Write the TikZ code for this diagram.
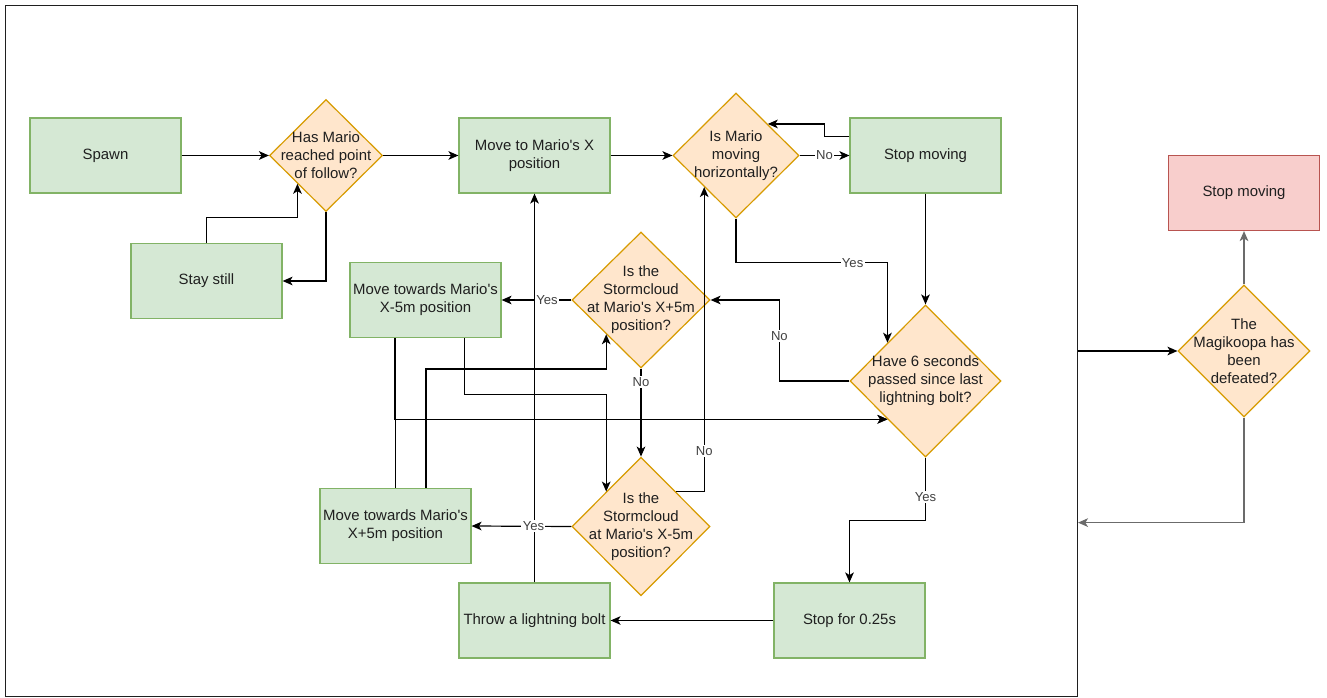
\documentclass[tikz,border=0pt]{standalone}
\usepackage{fontspec}
\setmainfont{Liberation Sans}
\usetikzlibrary{shapes.geometric,arrows.meta,calc}
\definecolor{gfill}{HTML}{D5E8D4}
\definecolor{gline}{HTML}{82B366}
\definecolor{ofill}{HTML}{FFE6CC}
\definecolor{oline}{HTML}{D79B00}
\definecolor{rfill}{HTML}{F8CECC}
\definecolor{rline}{HTML}{B85450}
\definecolor{txt}{HTML}{1F1F1F}
\definecolor{lgray}{HTML}{6B6B6B}
\newcommand{\boxfont}{\fontsize{11.2pt}{13.5pt}\selectfont}
\newcommand{\labfont}{\fontsize{9.8pt}{10.5pt}\selectfont}
\newcommand{\apo}{\textquotesingle}
\begin{document}
\begin{tikzpicture}[x=0.75pt,y=-0.75pt,
  box/.style={draw=gline, fill=gfill, line width=0.9pt, minimum width=113.25pt, minimum height=56.25pt, inner sep=0pt, align=center, font=\boxfont, text=txt},
  redbox/.style={box, draw=rline, fill=rfill},
  dia/.style={diamond, draw=oline, fill=ofill, line width=0.9pt, inner sep=0pt},
  dtext/.style={align=center, font=\boxfont, text=txt, inner sep=0pt},
  arr/.style={-{Stealth[length=7.5pt,width=6.5pt,inset=2pt]}, line width=0.9pt, draw=black},
  garr/.style={arr, draw=lgray},
  lbl/.style={fill=white, font=\labfont, text=txt!85, inner sep=1pt}]
\fill[white] (0,0) rectangle (1327,698);
\useasboundingbox (0,0) rectangle (1327,698);
% container frame
\node[draw=txt, line width=0.75pt, minimum width=804pt, minimum height=518.25pt, anchor=north west, inner sep=0pt] (frame) at (5,5) {};
% nodes
\node[box] (spawn) at (105.5,155.5) {Spawn};
\node[dia, minimum width=84.75pt, minimum height=84pt] (d1) at (326,155.5) {};
\node[dtext] (d1t) at (d1) {Has Mario\\reached point\\of follow?};
\node[box] (movex) at (534.5,155.5) {Move to Mario\apo s X\\position};
\node[dia, minimum width=94.5pt, minimum height=93.75pt] (d2) at (736,155.5) {};
\node[dtext] (d2t) at (d2) {Is Mario\\moving\\horizontally?};
\node[box] (stopm) at (925.5,155.5) {Stop moving};
\node[box] (stay) at (206.5,281) {Stay still};
\node[box] (xm5) at (425.5,300) {Move towards Mario\apo s\\X-5m position};
\node[dia, minimum width=103.5pt, minimum height=102pt] (d4) at (641,300) {};
\node[dtext] (d4t) at (d4) {Is the\\Stormcloud\\at Mario\apo s X+5m\\position?};
\node[dia, minimum width=113.25pt, minimum height=114pt] (d3) at (925.5,381) {};
\node[dtext] (d3t) at (d3) {Have 6 seconds\\passed since last\\lightning bolt?};
\node[box] (xp5) at (395.5,526) {Move towards Mario\apo s\\X+5m position};
\node[dia, minimum width=103.5pt, minimum height=104pt] (d5) at (641,526.5) {};
\node[dtext] (d5t) at (d5) {Is the\\Stormcloud\\at Mario\apo s X-5m\\position?};
\node[box] (throw) at (534.5,620.5) {Throw a lightning bolt};
\node[box] (stop25) at (849.5,620.5) {Stop for 0.25s};
\node[dia, minimum width=99pt, minimum height=99pt] (d6) at (1244,351) {};
\node[dtext] (d6t) at (d6) {The\\Magikoopa has\\been\\defeated?};
\node[redbox] (red) at (1244,193) {Stop moving};
% edge midpoints of diamonds
\coordinate (d1sw) at ($(d1.west)!0.5!(d1.south)$);
\coordinate (d2ne) at ($(d2.north)!0.5!(d2.east)$);
\coordinate (d2sw) at ($(d2.west)!0.5!(d2.south)$);
\coordinate (d3nw) at ($(d3.west)!0.5!(d3.north)$);
\coordinate (d3sw) at ($(d3.west)!0.5!(d3.south)$);
\coordinate (d4sw) at ($(d4.west)!0.5!(d4.south)$);
\coordinate (d5nw) at ($(d5.west)!0.5!(d5.north)$);
\coordinate (d5ne) at ($(d5.north)!0.5!(d5.east)$);
% connectors
\draw[arr] (spawn.east) -- (d1.west);
\draw[arr] (d1.south) |- (stay.east);
\draw[arr] (stay.north) -- ++(0,-25) -| (d1sw);
\draw[arr] (d1.east) -- (movex.west);
\draw[arr] (movex.east) -- (d2.west);
\draw[arr] (d2.east) -- node[lbl] {No} (stopm.west);
\draw[arr] ($(stopm.north west)!0.25!(stopm.south west)$) -- ++(-25,0) |- (d2ne);
\draw[arr] (stopm.south) -- (d3.north);
\draw[arr] (d2.south) -- ++(0,44) -| node[lbl, pos=0.385] {Yes} (d3nw);
\draw[arr] (d3.west) -- ++(-70,0) |- node[lbl, pos=0.28] {No} (d4.east);
\draw[arr] (d4.west) -- node[lbl, pos=0.35] {Yes} (xm5.east);
\draw[arr] (d4.south) -- node[lbl, pos=0.15] {No} (d5.north);
\draw[arr] (d5ne) -| node[lbl, pos=0.566] {No} (d2sw);
\draw[arr] (throw.north) -- (movex.south);
\draw[arr] (d5.west) -- node[lbl, pos=0.38] {Yes} (xp5.east);
\draw[arr] (stop25.west) -- (throw.east);
\draw[arr] (d3.south) -- node[lbl, pos=0.63] {Yes} ++(0,63) -| (stop25.north);
\draw[arr] ($(xm5.south west)!0.3!(xm5.south east)$) |- (d3sw);
\draw[arr] (xp5.north) |- (d3sw);
\draw[arr] ($(xp5.north west)!0.7!(xp5.north east)$) -- ++(0,-119) -| (d4sw);
\draw[arr] ($(xm5.south west)!0.755!(xm5.south east)$) -- ++(0,56) -| (d5nw);
% right part
\draw[arr] (d6.west -| frame.east) -- (d6.west);
\draw[garr] (d6.north) -- (red.south);
\draw[garr] (d6.south) |- ($(frame.north east)!0.748!(frame.south east)$);
\end{tikzpicture}
\end{document}
